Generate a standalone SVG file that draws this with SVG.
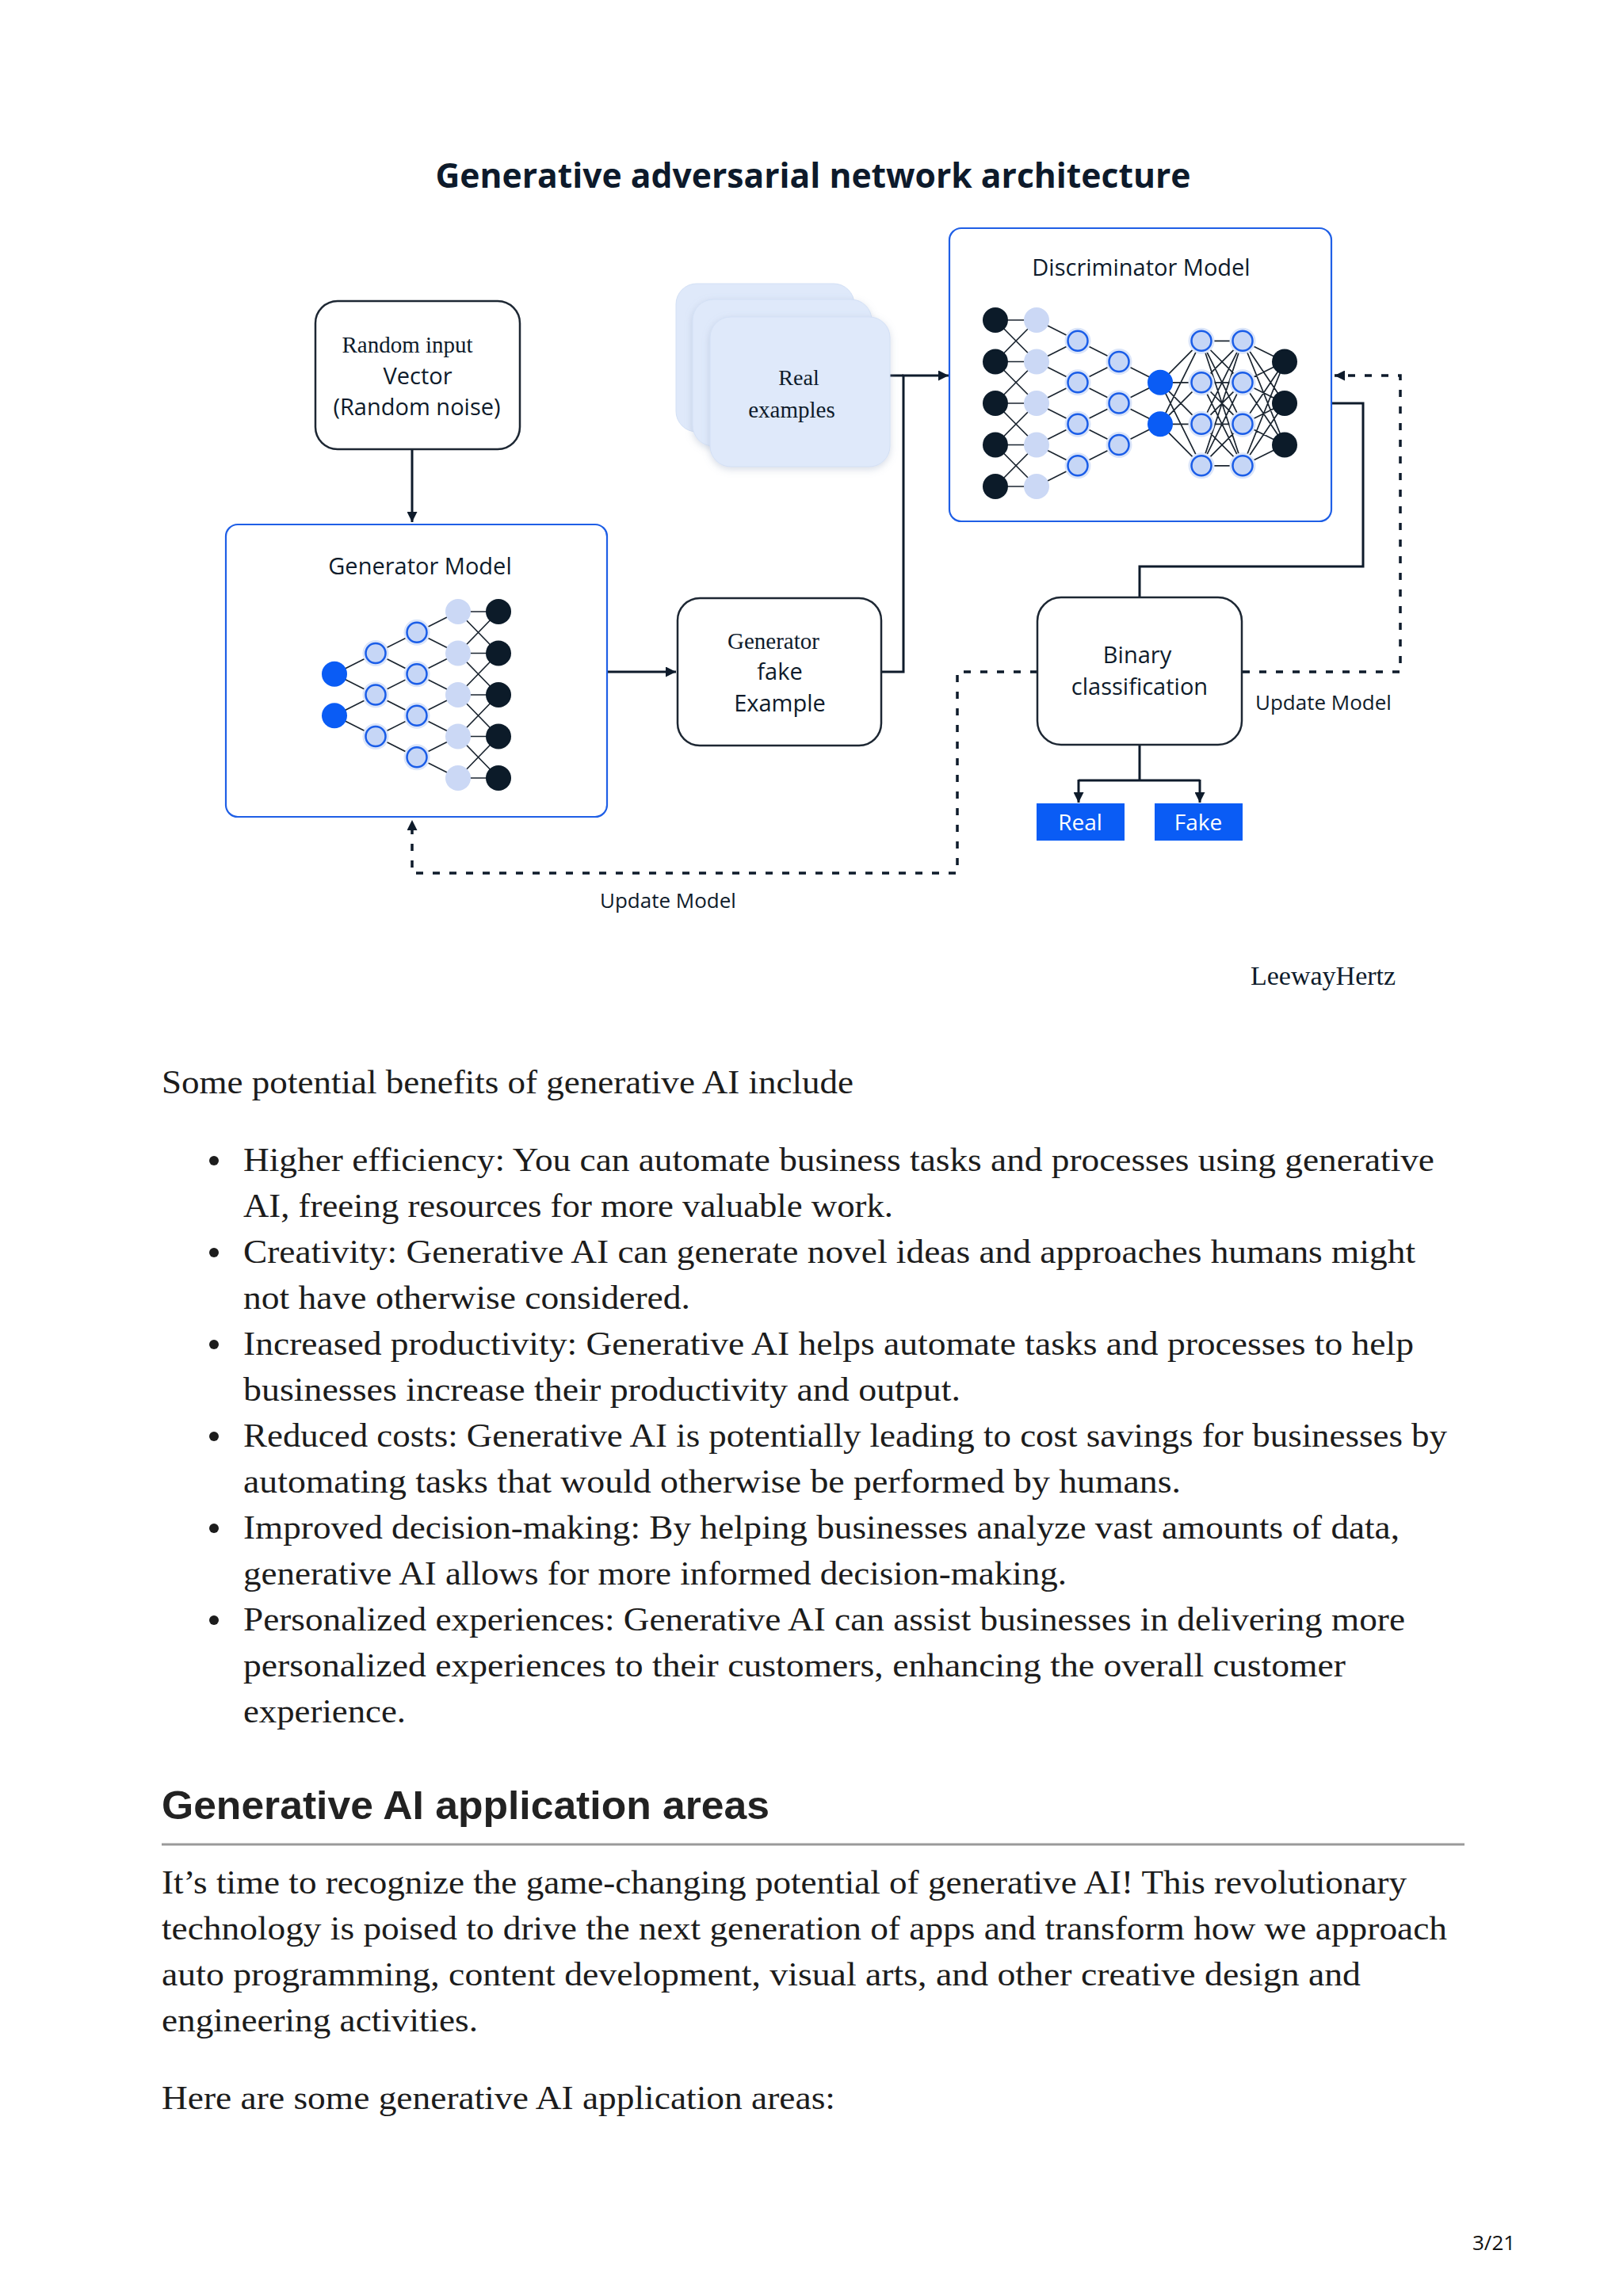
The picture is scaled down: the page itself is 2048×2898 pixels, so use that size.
<svg xmlns="http://www.w3.org/2000/svg" xmlns:xlink="http://www.w3.org/1999/xlink" width="2048" height="2898" viewBox="0 0 2048 2898">
<style>
.title{font-family:"Open Sans","Noto Sans",sans-serif;font-weight:700;font-size:43px;fill:#0d1a2b;text-anchor:middle}
.lbl{font-family:"Open Sans","Noto Sans",sans-serif;font-size:29px;fill:#0e1b2b;text-anchor:middle}
.small{font-family:"Open Sans","Noto Sans",sans-serif;font-size:26px;fill:#0e1b2b}
.wlbl{font-family:"Open Sans","Noto Sans",sans-serif;font-size:28px;fill:#ffffff;text-anchor:middle}
.ser{font-family:"Liberation Serif","Times New Roman",serif;font-size:29px;fill:#0e1b2b;text-anchor:middle}
.body{font-family:"Liberation Serif","Times New Roman",serif;font-size:42px;fill:#1c1c1c}
.head{font-family:"Liberation Sans",Arial,sans-serif;font-weight:700;font-size:50px;fill:#222222}
.pg{font-family:"Open Sans","Noto Sans",sans-serif;font-size:26px;fill:#111111}
.edge{stroke:#1b2530;stroke-width:1.7;fill:none}
.conn{stroke:#0e1b2b;stroke-width:3;fill:none}
.dash{stroke:#0e1b2b;stroke-width:3.5;fill:none;stroke-dasharray:9 12}
.box{fill:#ffffff;stroke:#1d2733;stroke-width:2.5}
.model{fill:#ffffff;stroke:#1f5fe6;stroke-width:2.2}
.card{fill:#dfe9fa;stroke:#d3e0f5;stroke-width:1}
.outbox{fill:#0a5cf5}
</style>
<defs>
<marker id="arr" viewBox="0 0 10 10" refX="10" refY="5" markerWidth="13" markerHeight="13" markerUnits="userSpaceOnUse" orient="auto">
<path d="M0,0 L10,5 L0,10 z" fill="#0e1b2b"/>
</marker>
<filter id="sh" x="-20%" y="-20%" width="140%" height="140%">
<feDropShadow dx="0" dy="3" stdDeviation="5" flood-color="#8a9bb8" flood-opacity="0.35"/>
</filter>
<g id="dk"><circle r="16" fill="#0c1b29"/></g>
<g id="lt"><circle r="16" fill="#cbd8f5"/></g>
<g id="bl"><circle r="16" fill="#0a5cf5"/></g>
<g id="rg"><circle r="16.5" fill="#dbe5f9"/><circle r="12.5" fill="#c6d6f6" stroke="#1a5de8" stroke-width="2.5"/></g>
</defs>
<rect width="2048" height="2898" fill="#ffffff"/>

<text class="title" x="1026" y="237" textLength="953" lengthAdjust="spacingAndGlyphs">Generative adversarial network architecture</text>

<g id="connectors">
<path class="conn" d="M520,567 V659" marker-end="url(#arr)"/>
<path class="conn" d="M767,848 H853" marker-end="url(#arr)"/>
<path class="conn" d="M1113,848 H1140 V474 H1197" marker-end="url(#arr)"/>
<path class="conn" d="M1123,474 H1140"/>
<path class="conn" d="M1680,509 H1720 V715 H1438 V755"/>
<path class="conn" d="M1438,940 V985 M1361,985 H1514"/>
<path class="conn" d="M1361,984 V1013" marker-end="url(#arr)"/>
<path class="conn" d="M1514,984 V1013" marker-end="url(#arr)"/>
<path class="dash" d="M1568,848 H1767 V474 H1684" marker-end="url(#arr)"/>
<path class="dash" d="M1309,848 H1208 V1102 H520 V1035" marker-end="url(#arr)"/>
</g>

<g id="random-input">
<rect class="box" x="398" y="380" width="258" height="187" rx="28"/>
<text class="ser" x="514" y="445">Random input</text>
<text class="lbl" x="527" y="485">Vector</text>
<text class="lbl" x="526" y="524">(Random noise)</text>
</g>

<g id="generator-model">
<rect class="model" x="285" y="662" width="481" height="369" rx="15"/>
<text class="lbl" x="530" y="725">Generator Model</text>
<path class="edge" d="M422,850.8L474,824.5M422,850.8L474,877M422,903.3L474,877M422,903.3L474,929.5
M474,824.5L526,798.3M474,824.5L526,850.8M474,877L526,850.8M474,877L526,903.3M474,929.5L526,903.3M474,929.5L526,955.8
M526,798.3L578,772M526,798.3L578,824.5M526,850.8L578,824.5M526,850.8L578,877M526,903.3L578,877M526,903.3L578,929.5M526,955.8L578,929.5M526,955.8L578,982
M578,772H629M578,824.5H629M578,877H629M578,929.5H629M578,982H629
M578,772L629,824.5M578,824.5L629,772M578,824.5L629,877M578,877L629,824.5M578,877L629,929.5M578,929.5L629,877M578,929.5L629,982M578,982L629,929.5"/>
<use xlink:href="#bl" x="422" y="850.8"/><use xlink:href="#bl" x="422" y="903.3"/>
<use xlink:href="#rg" x="474" y="824.5"/><use xlink:href="#rg" x="474" y="877"/><use xlink:href="#rg" x="474" y="929.5"/>
<use xlink:href="#rg" x="526" y="798.3"/><use xlink:href="#rg" x="526" y="850.8"/><use xlink:href="#rg" x="526" y="903.3"/><use xlink:href="#rg" x="526" y="955.8"/>
<use xlink:href="#lt" x="578" y="772"/><use xlink:href="#lt" x="578" y="824.5"/><use xlink:href="#lt" x="578" y="877"/><use xlink:href="#lt" x="578" y="929.5"/><use xlink:href="#lt" x="578" y="982"/>
<use xlink:href="#dk" x="629" y="772"/><use xlink:href="#dk" x="629" y="824.5"/><use xlink:href="#dk" x="629" y="877"/><use xlink:href="#dk" x="629" y="929.5"/><use xlink:href="#dk" x="629" y="982"/>
</g>

<g id="real-examples">
<rect class="card" x="853" y="358" width="225" height="187" rx="26"/>
<rect class="card" x="874" y="378" width="226" height="185" rx="26" filter="url(#sh)"/>
<rect class="card" x="896" y="400" width="227" height="189" rx="26" filter="url(#sh)"/>
<text class="ser" x="1008" y="486" style="font-size:28px">Real</text>
<text class="ser" x="999" y="527">examples</text>
</g>

<g id="generator-fake-example">
<rect class="box" x="855" y="755" width="257" height="186" rx="28"/>
<text class="ser" x="976" y="819">Generator</text>
<text class="lbl" x="984" y="858">fake</text>
<text class="lbl" x="984" y="898">Example</text>
</g>

<g id="discriminator-model">
<rect class="model" x="1198" y="288" width="482" height="370" rx="15"/>
<text class="lbl" x="1440" y="348">Discriminator Model</text>
<path class="edge" d="M1256,404H1308M1256,456.5H1308M1256,509H1308M1256,561.5H1308M1256,614H1308
M1256,404L1308,456.5M1256,456.5L1308,404M1256,456.5L1308,509M1256,509L1308,456.5M1256,509L1308,561.5M1256,561.5L1308,509M1256,561.5L1308,614M1256,614L1308,561.5
M1308,404L1360,430.3M1308,456.5L1360,430.3M1308,456.5L1360,482.8M1308,509L1360,482.8M1308,509L1360,535.3M1308,561.5L1360,535.3M1308,561.5L1360,587.8M1308,614L1360,587.8
M1360,430.3L1412,456.5M1360,482.8L1412,456.5M1360,482.8L1412,509M1360,535.3L1412,509M1360,535.3L1412,561.5M1360,587.8L1412,561.5
M1412,456.5L1464,482.8M1412,509L1464,482.8M1412,509L1464,535.3M1412,561.5L1464,535.3
M1464,482.8L1516,430.3M1464,482.8L1516,482.8M1464,482.8L1516,535.3M1464,482.8L1516,587.8
M1464,535.3L1516,430.3M1464,535.3L1516,482.8M1464,535.3L1516,535.3M1464,535.3L1516,587.8
M1516,430.3L1568,430.3M1516,430.3L1568,482.8M1516,430.3L1568,535.3M1516,430.3L1568,587.8
M1516,482.8L1568,430.3M1516,482.8L1568,482.8M1516,482.8L1568,535.3M1516,482.8L1568,587.8
M1516,535.3L1568,430.3M1516,535.3L1568,482.8M1516,535.3L1568,535.3M1516,535.3L1568,587.8
M1516,587.8L1568,430.3M1516,587.8L1568,482.8M1516,587.8L1568,535.3M1516,587.8L1568,587.8
M1568,430.3L1621,456.5M1568,430.3L1621,509M1568,430.3L1621,561.5
M1568,482.8L1621,456.5M1568,482.8L1621,509M1568,482.8L1621,561.5
M1568,535.3L1621,456.5M1568,535.3L1621,509M1568,535.3L1621,561.5
M1568,587.8L1621,456.5M1568,587.8L1621,509M1568,587.8L1621,561.5"/>
<use xlink:href="#dk" x="1256" y="404"/><use xlink:href="#dk" x="1256" y="456.5"/><use xlink:href="#dk" x="1256" y="509"/><use xlink:href="#dk" x="1256" y="561.5"/><use xlink:href="#dk" x="1256" y="614"/>
<use xlink:href="#lt" x="1308" y="404"/><use xlink:href="#lt" x="1308" y="456.5"/><use xlink:href="#lt" x="1308" y="509"/><use xlink:href="#lt" x="1308" y="561.5"/><use xlink:href="#lt" x="1308" y="614"/>
<use xlink:href="#rg" x="1360" y="430.3"/><use xlink:href="#rg" x="1360" y="482.8"/><use xlink:href="#rg" x="1360" y="535.3"/><use xlink:href="#rg" x="1360" y="587.8"/>
<use xlink:href="#rg" x="1412" y="456.5"/><use xlink:href="#rg" x="1412" y="509"/><use xlink:href="#rg" x="1412" y="561.5"/>
<use xlink:href="#bl" x="1464" y="482.8"/><use xlink:href="#bl" x="1464" y="535.3"/>
<use xlink:href="#rg" x="1516" y="430.3"/><use xlink:href="#rg" x="1516" y="482.8"/><use xlink:href="#rg" x="1516" y="535.3"/><use xlink:href="#rg" x="1516" y="587.8"/>
<use xlink:href="#rg" x="1568" y="430.3"/><use xlink:href="#rg" x="1568" y="482.8"/><use xlink:href="#rg" x="1568" y="535.3"/><use xlink:href="#rg" x="1568" y="587.8"/>
<use xlink:href="#dk" x="1621" y="456.5"/><use xlink:href="#dk" x="1621" y="509"/><use xlink:href="#dk" x="1621" y="561.5"/>
</g>

<g id="binary-classification">
<rect class="box" x="1309" y="754" width="258" height="186" rx="30"/>
<text class="lbl" x="1435" y="837">Binary</text>
<text class="lbl" x="1438" y="877">classification</text>
</g>

<g id="real-output">
<rect class="outbox" x="1308" y="1014" width="111" height="47"/>
<text class="wlbl" x="1363" y="1048">Real</text>
</g>
<g id="fake-output">
<rect class="outbox" x="1457" y="1014" width="111" height="47"/>
<text class="wlbl" x="1512" y="1048">Fake</text>
</g>

<g id="labels">
<text class="small" x="1584" y="896">Update Model</text>
<text class="small" x="757" y="1146">Update Model</text>
<text class="ser" x="1578" y="1243" style="font-size:34px;text-anchor:start">LeewayHertz</text>
</g>

<g id="article-text">
<text class="body" x="204" y="1380" textLength="873" lengthAdjust="spacingAndGlyphs">Some potential benefits of generative AI include</text>
<g fill="#1c1c1c">
<circle cx="270" cy="1465" r="6"/><circle cx="270" cy="1581" r="6"/><circle cx="270" cy="1697" r="6"/><circle cx="270" cy="1813" r="6"/><circle cx="270" cy="1929" r="6"/><circle cx="270" cy="2045" r="6"/>
</g>
<text class="body" x="307" y="1478" textLength="1503" lengthAdjust="spacingAndGlyphs">Higher efficiency: You can automate business tasks and processes using generative</text>
<text class="body" x="307" y="1536" textLength="820" lengthAdjust="spacingAndGlyphs">AI, freeing resources for more valuable work.</text>
<text class="body" x="307" y="1594" textLength="1479" lengthAdjust="spacingAndGlyphs">Creativity: Generative AI can generate novel ideas and approaches humans might</text>
<text class="body" x="307" y="1652" textLength="564" lengthAdjust="spacingAndGlyphs">not have otherwise considered.</text>
<text class="body" x="307" y="1710" textLength="1477" lengthAdjust="spacingAndGlyphs">Increased productivity: Generative AI helps automate tasks and processes to help</text>
<text class="body" x="307" y="1768" textLength="905" lengthAdjust="spacingAndGlyphs">businesses increase their productivity and output.</text>
<text class="body" x="307" y="1826" textLength="1519" lengthAdjust="spacingAndGlyphs">Reduced costs: Generative AI is potentially leading to cost savings for businesses by</text>
<text class="body" x="307" y="1884" textLength="1183" lengthAdjust="spacingAndGlyphs">automating tasks that would otherwise be performed by humans.</text>
<text class="body" x="307" y="1942" textLength="1459" lengthAdjust="spacingAndGlyphs">Improved decision-making: By helping businesses analyze vast amounts of data,</text>
<text class="body" x="307" y="2000" textLength="1039" lengthAdjust="spacingAndGlyphs">generative AI allows for more informed decision-making.</text>
<text class="body" x="307" y="2058" textLength="1466" lengthAdjust="spacingAndGlyphs">Personalized experiences: Generative AI can assist businesses in delivering more</text>
<text class="body" x="307" y="2116" textLength="1391" lengthAdjust="spacingAndGlyphs">personalized experiences to their customers, enhancing the overall customer</text>
<text class="body" x="307" y="2174" textLength="205" lengthAdjust="spacingAndGlyphs">experience.</text>

<text class="head" x="204" y="2296" textLength="767" lengthAdjust="spacingAndGlyphs">Generative AI application areas</text>
<line x1="204" y1="2328" x2="1848" y2="2328" stroke="#9a9a9a" stroke-width="3"/>

<text class="body" x="204" y="2390" textLength="1571" lengthAdjust="spacingAndGlyphs">It’s time to recognize the game-changing potential of generative AI! This revolutionary</text>
<text class="body" x="204" y="2448" textLength="1622" lengthAdjust="spacingAndGlyphs">technology is poised to drive the next generation of apps and transform how we approach</text>
<text class="body" x="204" y="2506" textLength="1513" lengthAdjust="spacingAndGlyphs">auto programming, content development, visual arts, and other creative design and</text>
<text class="body" x="204" y="2564" textLength="399" lengthAdjust="spacingAndGlyphs">engineering activities.</text>
<text class="body" x="204" y="2662" textLength="850" lengthAdjust="spacingAndGlyphs">Here are some generative AI application areas:</text>

<text class="pg" x="1858" y="2840">3/21</text>
</g>
</svg>
